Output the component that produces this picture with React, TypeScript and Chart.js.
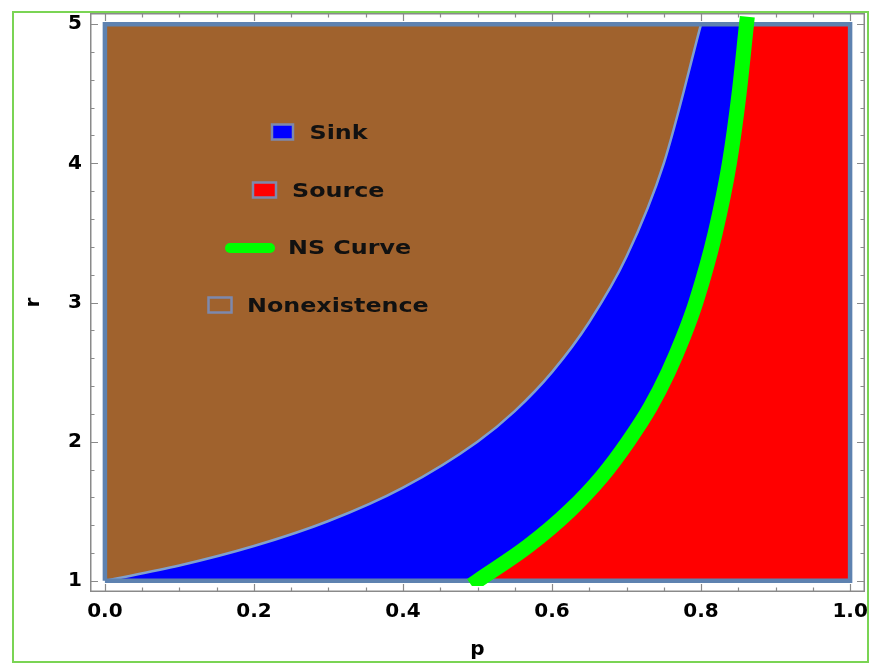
import React, { useEffect, useRef } from 'react';
import { Chart, registerables } from 'chart.js';

Chart.register(...registerables);

// ---- data ----
// Sink / Nonexistence boundary (p, r)
const boundaryP = [0, 0.1, 0.2, 0.3, 0.4, 0.5, 0.55, 0.6, 0.65, 0.7, 0.75, 0.8];
const boundaryR = [1, 1.11, 1.25, 1.43, 1.67, 2.0, 2.22, 2.5, 2.86, 3.33, 4.0, 5.0];
// NS curve (Sink / Source boundary)
const nsCurveP = [0.5, 0.568, 0.623, 0.667, 0.702, 0.732, 0.756, 0.776, 0.793, 0.819, 0.838, 0.851, 0.861];
const nsCurveR = [1.0, 1.25, 1.5, 1.75, 2.0, 2.25, 2.5, 2.75, 3.0, 3.5, 4.0, 4.5, 5.0];
// parameter domain
const domainP = [0, 1];
const domainR = [1, 5];
// axes
const xMajorTicks = [0, 0.2, 0.4, 0.6, 0.8, 1.0];
const xTickLabels = ['0.0', '0.2', '0.4', '0.6', '0.8', '1.0'];
const xMinorTicks = [0.05, 0.1, 0.15, 0.25, 0.3, 0.35, 0.45, 0.5, 0.55, 0.65, 0.7, 0.75, 0.85, 0.9, 0.95];
const yMajorTicks = [1, 2, 3, 4, 5];
const yTickLabels = ['1', '2', '3', '4', '5'];
const yMinorTicks = [1.2, 1.4, 1.6, 1.8, 2.2, 2.4, 2.6, 2.8, 3.2, 3.4, 3.6, 3.8, 4.2, 4.4, 4.6, 4.8];
const xTitle = 'p';
const yTitle = 'r';
const legendLabels = ['Sink', 'Source', 'NS Curve', 'Nonexistence'];

// ---- styles ----
const BROWN = '#a0622d';
const BLUE = '#0000ff';
const RED = '#ff0000';
const GREEN = '#00ff00';
const EDGE = '#5e82b0';
const BOUNDARY = '#7fa0cf';
const FRAME = '#8a8a8a';
const FONT_FAMILY = "'DejaVu Sans', sans-serif";

const pts = (xs: number[], ys: number[]) => xs.map((x, i) => ({ x, y: ys[i] }));

const frameTicksPlugin = {
  id: 'frameTicks',
  afterDraw(chart: any) {
    const { ctx, chartArea: a, scales } = chart;
    const x = scales.x;
    const y = scales.y;
    ctx.save();
    ctx.strokeStyle = FRAME;
    ctx.lineWidth = 1.5;
    ctx.strokeRect(a.left + 0.75, a.top + 0.75, a.right - a.left - 1.5, a.bottom - a.top - 1.5);
    ctx.lineWidth = 1.2;
    const drawX = (vals: number[], len: number) => {
      vals.forEach((v) => {
        const px = Math.round(x.getPixelForValue(v)) + 0.5;
        ctx.beginPath();
        ctx.moveTo(px, a.bottom);
        ctx.lineTo(px, a.bottom - len);
        ctx.moveTo(px, a.top);
        ctx.lineTo(px, a.top + len);
        ctx.stroke();
      });
    };
    const drawY = (vals: number[], len: number) => {
      vals.forEach((v) => {
        const py = Math.round(y.getPixelForValue(v)) + 0.5;
        ctx.beginPath();
        ctx.moveTo(a.left, py);
        ctx.lineTo(a.left + len, py);
        ctx.moveTo(a.right, py);
        ctx.lineTo(a.right - len, py);
        ctx.stroke();
      });
    };
    drawX(xMajorTicks, 8);
    drawX(xMinorTicks, 4.5);
    drawY(yMajorTicks, 8);
    drawY(yMinorTicks, 4.5);
    ctx.restore();
  },
};

const legendPlugin = {
  id: 'regionLegend',
  afterDatasetsDraw(chart: any) {
    const { ctx } = chart;
    ctx.save();
    const swatch = (cx: number, cy: number, w: number, h: number, fill: string) => {
      ctx.fillStyle = fill;
      ctx.fillRect(cx - w / 2, cy - h / 2, w, h);
      ctx.strokeStyle = '#7d89ad';
      ctx.lineWidth = 2.5;
      ctx.strokeRect(cx - w / 2, cy - h / 2, w, h);
    };
    const label = (text: string, x: number, y: number) => {
      ctx.save();
      ctx.translate(x, y);
      ctx.scale(1.19, 1);
      ctx.fillStyle = '#111';
      ctx.font = `bold 20px ${FONT_FAMILY}`;
      ctx.textBaseline = 'alphabetic';
      ctx.textAlign = 'left';
      ctx.fillText(text, 0, 0);
      ctx.restore();
    };
    swatch(282.5, 132, 21, 15, BLUE);
    label(legendLabels[0], 309.5, 138.5);
    swatch(264.5, 190, 23, 15, RED);
    label(legendLabels[1], 292, 196.5);
    ctx.strokeStyle = GREEN;
    ctx.lineWidth = 10;
    ctx.lineCap = 'round';
    ctx.beginPath();
    ctx.moveTo(230, 248);
    ctx.lineTo(270, 248);
    ctx.stroke();
    label(legendLabels[2], 288, 254);
    swatch(220, 305, 23, 15, BROWN);
    label(legendLabels[3], 247, 311.5);
    ctx.restore();
  },
};

export default function App() {
  const ref = useRef<HTMLCanvasElement>(null);

  useEffect(() => {
    if (!ref.current) return;
    const tickFont = { family: FONT_FAMILY, size: 20, weight: 'bold' as const };
    const chart = new Chart(ref.current, {
      type: 'line',
      data: {
        datasets: [
          {
            label: 'NS Curve',
            data: pts(nsCurveP, nsCurveR),
            borderColor: GREEN,
            borderWidth: 15,
            borderCapStyle: 'square',
            cubicInterpolationMode: 'monotone',
            pointRadius: 0,
            fill: false,
            clip: { left: 20, top: 20, right: 20, bottom: -6 },
          },
          {
            label: 'domain',
            data: pts(
              [domainP[0], domainP[1], domainP[1], domainP[0], domainP[0]],
              [domainR[0], domainR[0], domainR[1], domainR[1], domainR[0]]
            ),
            borderColor: EDGE,
            borderWidth: 4.5,
            borderJoinStyle: 'miter',
            tension: 0,
            pointRadius: 0,
            fill: false,
          },
          {
            label: 'Nonexistence',
            data: pts(boundaryP, boundaryR),
            borderColor: BOUNDARY,
            borderWidth: 2.5,
            backgroundColor: BROWN,
            cubicInterpolationMode: 'monotone',
            pointRadius: 0,
            fill: { value: domainR[1] },
          },
          {
            label: 'Sink',
            data: [{ x: domainP[0], y: domainR[0] }, ...pts(nsCurveP, nsCurveR)],
            borderWidth: 0,
            borderColor: BLUE,
            backgroundColor: BLUE,
            tension: 0,
            pointRadius: 0,
            fill: { value: domainR[1] },
          },
          {
            label: 'Source',
            data: pts(domainP, [domainR[0], domainR[0]]),
            borderWidth: 0,
            borderColor: RED,
            backgroundColor: RED,
            tension: 0,
            pointRadius: 0,
            fill: { value: domainR[1] },
          },
        ],
      },
      options: {
        responsive: false,
        animation: false,
        events: [],
        layout: { padding: { left: 0, right: 5, top: 13, bottom: 0 } },
        plugins: {
          legend: { display: false },
          tooltip: { enabled: false },
        },
        scales: {
          x: {
            type: 'linear',
            min: -0.02,
            max: 1.02,
            afterBuildTicks: (s: any) => {
              s.ticks = xMajorTicks.map((v) => ({ value: v }));
            },
            afterFit: (s: any) => {
              s.height = 72;
              s.paddingLeft = 0;
              s.paddingRight = 0;
            },
            ticks: {
              autoSkip: false,
              maxRotation: 0,
              padding: 8,
              color: '#000',
              font: tickFont,
              callback: (_v: any, i: number) => xTickLabels[i],
            },
            grid: { display: false, drawTicks: false },
            border: { display: false },
            title: {
              display: true,
              text: xTitle,
              color: '#000',
              font: tickFont,
              padding: { top: 0, bottom: 2 },
            },
          },
          y: {
            type: 'linear',
            min: 0.92,
            max: 5.08,
            afterBuildTicks: (s: any) => {
              s.ticks = yMajorTicks.map((v) => ({ value: v }));
            },
            afterFit: (s: any) => {
              s.width = 90;
              s.paddingTop = 0;
              s.paddingBottom = 0;
            },
            ticks: {
              autoSkip: false,
              padding: 8,
              color: '#000',
              font: tickFont,
              callback: (_v: any, i: number) => yTickLabels[i],
            },
            grid: { display: false, drawTicks: false },
            border: { display: false },
            title: {
              display: true,
              text: yTitle,
              color: '#000',
              font: tickFont,
              padding: { top: 22, bottom: 0 },
            },
          },
        },
      } as any,
      plugins: [frameTicksPlugin, legendPlugin],
    } as any);
    return () => chart.destroy();
  }, []);

  return (
    <div style={{ position: 'fixed', left: 0, top: 0, width: 870, height: 664, background: '#fff' }}>
      <canvas ref={ref} width={870} height={664} style={{ display: 'block', width: 870, height: 664 }} />
      <div
        style={{
          position: 'absolute',
          left: 12,
          top: 11,
          width: 857,
          height: 652,
          boxSizing: 'border-box',
          border: '2px solid #7ad454',
          pointerEvents: 'none',
        }}
      />
    </div>
  );
}
